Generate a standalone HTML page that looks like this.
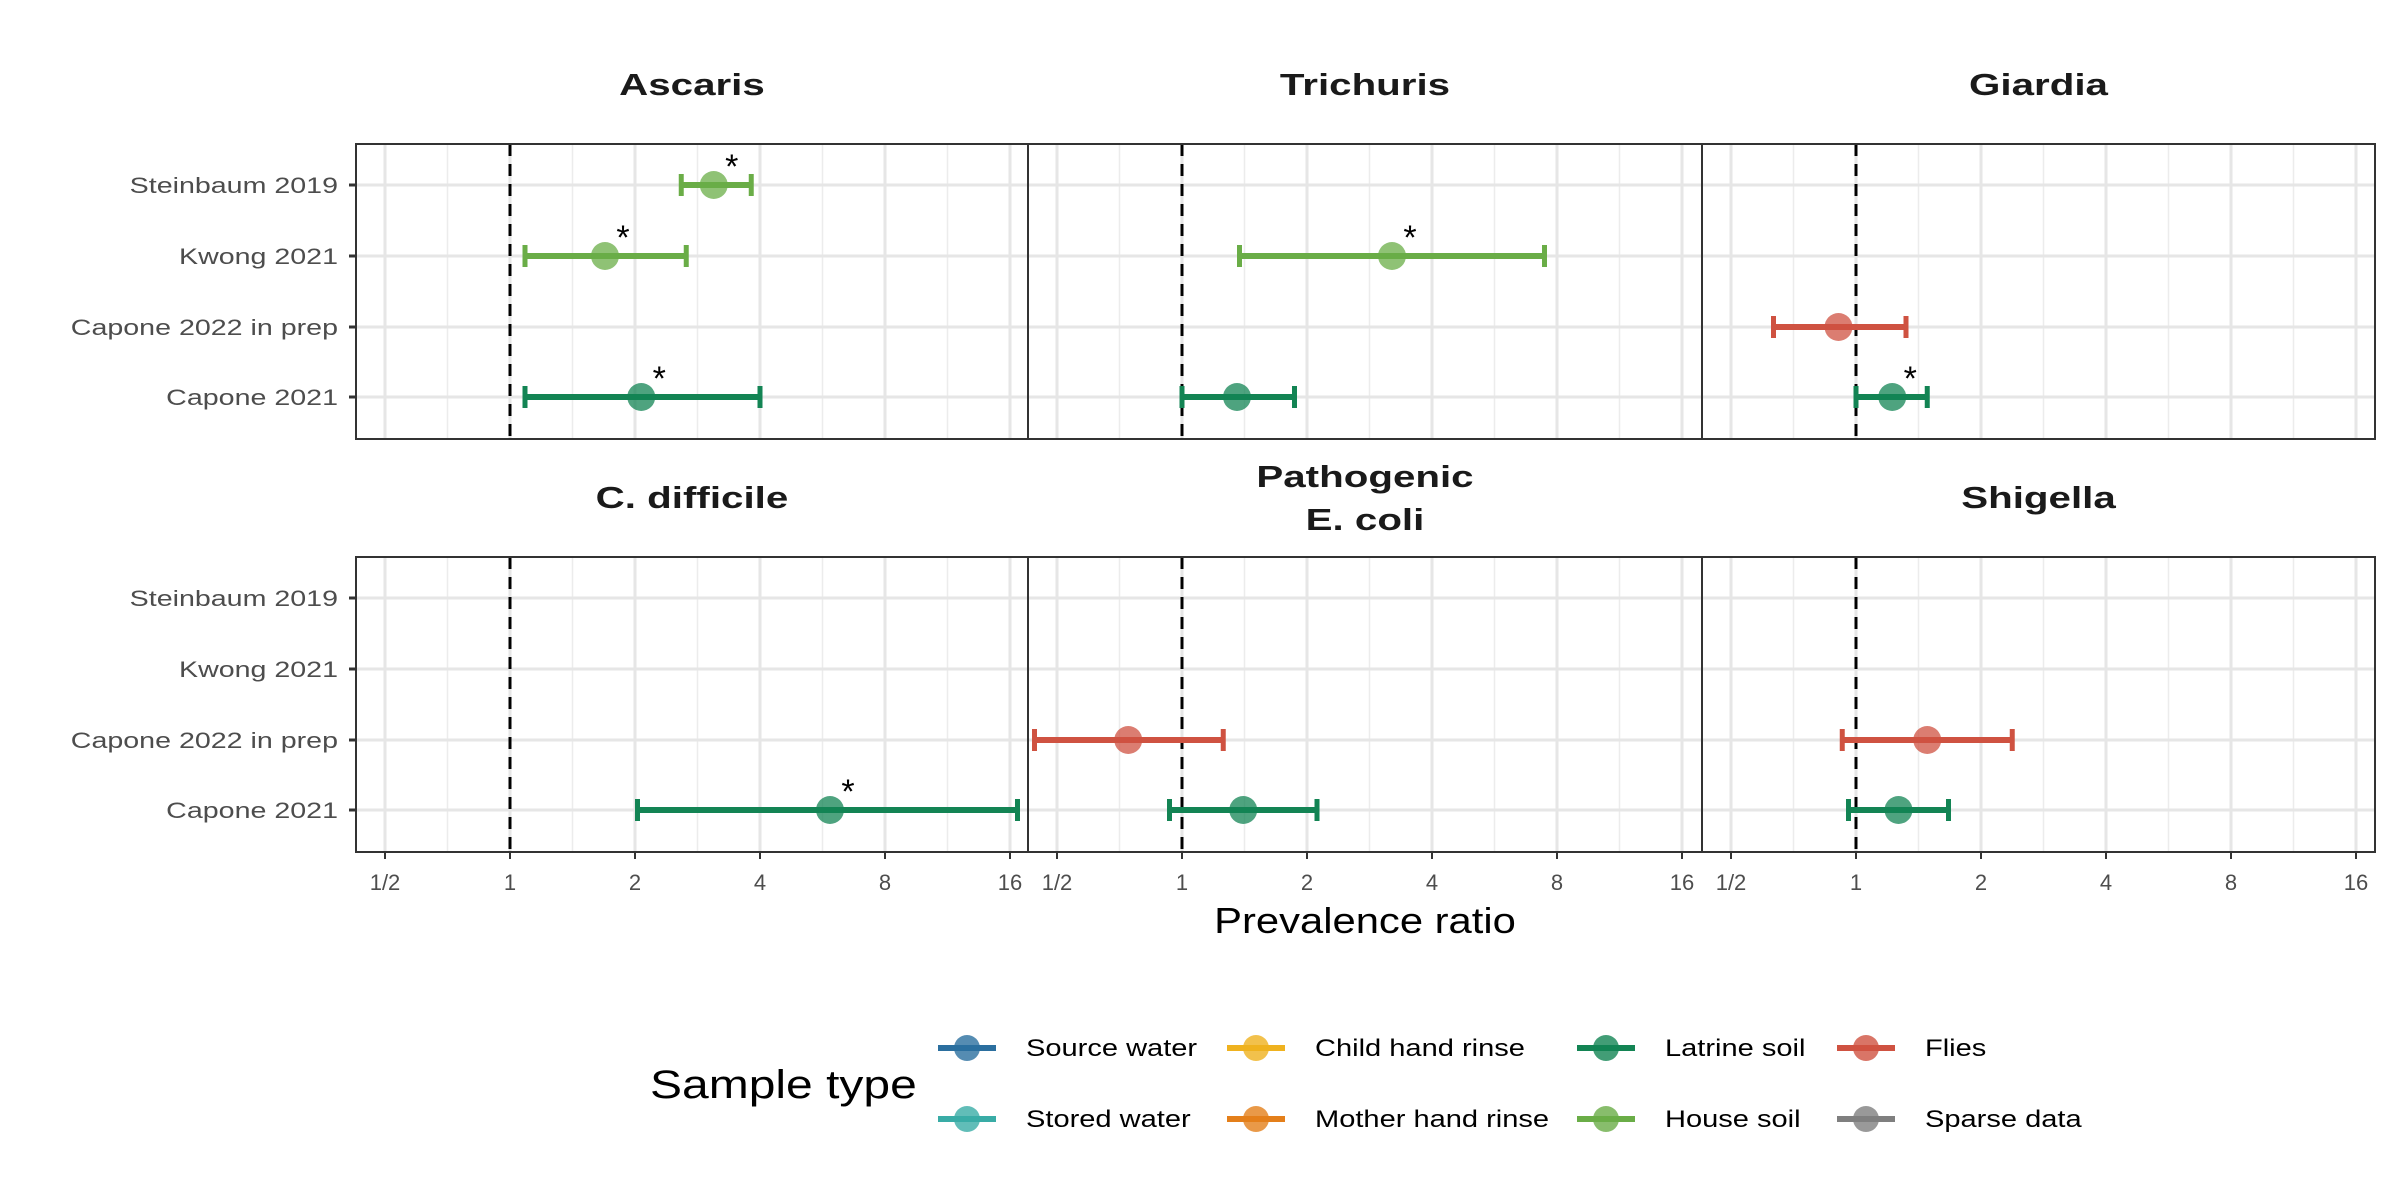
<!DOCTYPE html>
<html><head><meta charset="utf-8"><style>
html,body{margin:0;padding:0;background:#fff;}
svg{display:block;font-family:"Liberation Sans",Arial,sans-serif;}
</style></head><body>
<svg id="chart" width="2400" height="1200" viewBox="0 0 2400 1200" xmlns="http://www.w3.org/2000/svg"></svg>
<script>
const studies = ["Steinbaum 2019","Kwong 2021","Capone 2022 in prep","Capone 2021"];
const pathogens = ["Ascaris","Trichuris","Giardia","C. difficile","Pathogenic\nE. coli","Shigella"];
const xTicks = [-1,0,1,2,3,4];
const xTickLabels = ["1/2","1","2","4","8","16"];
// estimates (log2 prevalence ratio)
const estPathogen = [0,0,0,1,1,2,2,3,4,4,5,5];
const estStudy    = [0,1,3,1,3,2,3,3,2,3,2,3];
const estType     = ["house","house","latrine","house","latrine","flies","latrine","latrine","flies","latrine","flies","latrine"];
const estPoint    = [1.63,0.76,1.05,1.68,0.44,-0.14,0.29,2.56,-0.43,0.49,0.57,0.34];
const estLow      = [1.37,0.12,0.12,0.46,0.00,-0.66,0.00,1.02,-1.18,-0.10,-0.11,-0.06];
const estHigh     = [1.93,1.41,2.00,2.90,0.90,0.40,0.57,4.06,0.33,1.08,1.25,0.74];
const estSig      = [1,1,1,1,0,0,1,1,0,0,0,0];
const legendLabels = ["Source water","Stored water","Child hand rinse","Mother hand rinse","Latrine soil","House soil","Flies","Sparse data"];
const legendColors = ["#2b6f9f","#39aca6","#efb21f","#e47f1a","#138454","#6aad47","#cf5241","#7f7f7f"];
const typeColor = {house:"#6aad47", latrine:"#138454", flies:"#cf5241"};

const NS="http://www.w3.org/2000/svg";
const svg=document.getElementById('chart');
function mk(tag,attrs,parent){const e=document.createElementNS(NS,tag);for(const k in attrs)e.setAttribute(k,attrs[k]);(parent||svg).appendChild(e);return e;}
function stretch(t,k){const L=t.getComputedTextLength();if(L>0){t.setAttribute('textLength',(L*k).toFixed(1));t.setAttribute('lengthAdjust','spacingAndGlyphs');}}

const panelX=[356,1028,1702], panelW=[672,674,673];
const panelY=[144,557], panelH=295;
const unit=125, oneOff=154;
const rowOff=[41,112,183,253];
function xScale(col,v){return panelX[col]+oneOff+v*unit;}
function yScale(row,s){return panelY[row]+rowOff[s];}

for(let p=0;p<6;p++){
  const col=p%3,row=Math.floor(p/3);
  const g=mk('g',{});
  
  
  const x0=panelX[col],y0=panelY[row],w=panelW[col];
  for(let t=-1.5;t<=4.5;t+=1){const x=xScale(col,t);if(x>x0&&x<x0+w)mk('line',{x1:x,x2:x,y1:y0,y2:y0+panelH,stroke:'#ececec','stroke-width':1.5},g);}
  for(let i=0;i<xTicks.length;i++){const x=xScale(col,xTicks[i]);mk('line',{x1:x,x2:x,y1:y0,y2:y0+panelH,stroke:'#e6e6e6','stroke-width':3},g);}
  for(let s=0;s<4;s++){const y=yScale(row,s);mk('line',{x1:x0,x2:x0+w,y1:y,y2:y,stroke:'#e6e6e6','stroke-width':3},g);}
  const d=mk('line',{x1:xScale(col,0),x2:xScale(col,0),y1:y0,y2:y0+panelH,stroke:'#000','stroke-width':3,'stroke-dasharray':'12,8'},g);
  
  
  mk('rect',{x:x0,y:y0,width:w,height:panelH,fill:'none',stroke:'#333','stroke-width':2},g);
  const lines=pathogens[p].split('\n');
  lines.forEach((l,i)=>{
    const tt=mk('text',{x:x0+w/2,y:(lines.length>1?(y0-70+i*43):(y0-49)),'text-anchor':'middle','font-size':31,'font-weight':'bold',fill:'#1a1a1a'},g);
    
    
    tt.textContent=l;stretch(tt,1.3);
  });
  if(col===0){for(let s=0;s<4;s++){const y=yScale(row,s);mk('line',{x1:x0-7,x2:x0,y1:y,y2:y,stroke:'#333','stroke-width':3},g);
    const t=mk('text',{x:x0-18,y:y+8,'text-anchor':'end','font-size':22,fill:'#4d4d4d'},g);t.textContent=studies[s];
    
    
    stretch(t,1.3);}}
  if(row===1){for(let i=0;i<xTicks.length;i++){const x=xScale(col,xTicks[i]);mk('line',{x1:x,x2:x,y1:y0+panelH,y2:y0+panelH+7,stroke:'#333','stroke-width':2},g);
    const t=mk('text',{x:x,y:y0+panelH+38,'text-anchor':'middle','font-size':22,fill:'#4d4d4d'},g);t.textContent=xTickLabels[i];
    
    }}
}
for(let i=0;i<estPoint.length;i++){
  const p=estPathogen[i],col=p%3,row=Math.floor(p/3);
  const y=yScale(row,estStudy[i]),c=typeColor[estType[i]];
  const xl=xScale(col,estLow[i]),xh=xScale(col,estHigh[i]),xp=xScale(col,estPoint[i]);
  const g=mk('g',{});
  
  
  mk('line',{x1:xl,x2:xh,y1:y,y2:y,stroke:c,'stroke-width':6},g);
  mk('line',{x1:xl,x2:xl,y1:y-11,y2:y+11,stroke:c,'stroke-width':5},g);
  mk('line',{x1:xh,x2:xh,y1:y-11,y2:y+11,stroke:c,'stroke-width':5},g);
  mk('circle',{cx:xp,cy:y,r:14,fill:c,'fill-opacity':0.75},g);
  if(estSig[i]){const s=mk('text',{x:xp+18,y:y-7,'text-anchor':'middle','font-size':34,fill:'#000'},g);s.textContent='*';
    
    }
}
const at=mk('text',{x:1365,y:933,'text-anchor':'middle','font-size':36,fill:'#000'});at.textContent='Prevalence ratio';


stretch(at,1.16);
const lt=mk('text',{x:650,y:1098,'font-size':40,fill:'#000'});lt.textContent='Sample type';


stretch(lt,1.2);
const lx=[938,1227,1577,1837], ly=[1048,1119];
for(let i=0;i<legendLabels.length;i++){
  const cx=lx[Math.floor(i/2)],cy=ly[i%2],c=legendColors[i];
  const g=mk('g',{});
  
  
  mk('line',{x1:cx,x2:cx+58,y1:cy,y2:cy,stroke:c,'stroke-width':6},g);
  mk('circle',{cx:cx+29,cy:cy,r:13,fill:c,'fill-opacity':0.8},g);
  const t=mk('text',{x:cx+88,y:cy+8,'font-size':24,fill:'#000'},g);t.textContent=legendLabels[i];
  stretch(t,1.21);
}
</script>
</body></html>
